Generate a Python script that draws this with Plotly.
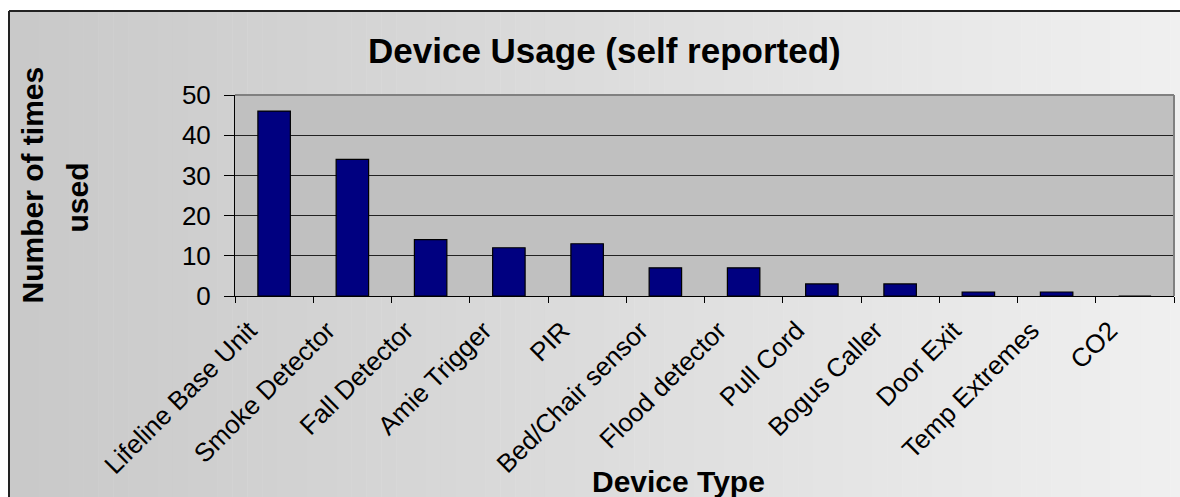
import plotly.graph_objects as go

categories = ["Lifeline Base Unit", "Smoke Detector", "Fall Detector", "Amie Trigger",
              "PIR", "Bed/Chair sensor", "Flood detector", "Pull Cord", "Bogus Caller",
              "Door Exit", "Temp Extremes", "CO2"]
times_used = [46, 34, 14, 12, 13, 7, 7, 3, 3, 1, 1, 0]
y_ticks = [0, 10, 20, 30, 40, 50]

W, H = 1180, 497
L, R, T, B = 235, 1174, 95, 296  # plot area in pixels
PW, PH = R - L, B - T


def px(x):
    return (x - L) / PW


def py(y):
    return (B - y) / PH


FONT = "Liberation Sans, Arial, sans-serif"

shapes = []
# horizontal gradient background inside the outer frame
n = 80
x0p, x1p = 9, 1200
c0, c1 = 0xC9, 0xF0
for i in range(n):
    xa = x0p + (x1p - x0p) * i / n
    xb = x0p + (x1p - x0p) * (i + 1) / n + 0.5
    c = int(round(c0 + (c1 - c0) * i / (n - 1)))
    col = f"rgb({c},{c},{c})"
    shapes.append(dict(type="rect", xref="paper", yref="paper", layer="below",
                       x0=px(xa), x1=px(xb), y0=py(510), y1=py(11),
                       fillcolor=col, line=dict(width=0)))
# plot area fill
shapes.append(dict(type="rect", xref="paper", yref="paper", layer="below",
                   x0=0, x1=1, y0=0, y1=1, fillcolor="#c0c0c0",
                   line=dict(width=0)))
# outer frame (left and top edges visible)
shapes.append(dict(type="line", xref="paper", yref="paper", layer="below",
                   x0=px(9), x1=px(1200), y0=py(11), y1=py(11),
                   line=dict(color="#222222", width=2)))
shapes.append(dict(type="line", xref="paper", yref="paper", layer="below",
                   x0=px(9), x1=px(9), y0=py(11), y1=py(510),
                   line=dict(color="#222222", width=2)))
# gray plot-area border (top and right)
shapes.append(dict(type="line", xref="paper", yref="paper", layer="above",
                   x0=0, x1=1, y0=1, y1=1, line=dict(color="#808080", width=2)))
shapes.append(dict(type="line", xref="paper", yref="paper", layer="above",
                   x0=1, x1=1, y0=0, y1=1, line=dict(color="#808080", width=2)))

fig = go.Figure(go.Bar(
    x=categories, y=times_used,
    marker=dict(color="#000080", line=dict(color="#000000", width=1.2)),
))

annotations = [
    dict(text="<b>Device Usage (self reported)</b>", xref="paper", yref="paper",
         x=px(604), y=py(50), xanchor="center", yanchor="middle", showarrow=False,
         font=dict(family=FONT, size=35, color="black")),
    dict(text="<b>Device Type</b>", xref="paper", yref="paper",
         x=px(678), y=py(481), xanchor="center", yanchor="middle", showarrow=False,
         font=dict(family=FONT, size=30, color="black")),
    dict(text="<b>Number of times</b>", xref="paper", yref="paper",
         x=px(32), y=py(306), xanchor="center", yanchor="bottom", showarrow=False,
         textangle=-90, font=dict(family=FONT, size=30, color="black")),
    dict(text="<b>used</b>", xref="paper", yref="paper",
         x=px(77), y=py(197.5), xanchor="center", yanchor="middle", showarrow=False,
         textangle=-90, font=dict(family=FONT, size=30, color="black")),
]

fig.update_layout(
    width=W, height=H,
    margin=dict(l=L, r=W - R, t=T, b=H - B, pad=0),
    paper_bgcolor="white", plot_bgcolor="#c0c0c0",
    bargap=0.585, showlegend=False,
    shapes=shapes, annotations=annotations,
    font=dict(family=FONT, color="black"),
)
fig.update_xaxes(
    type="category", tickson="boundaries", ticks="outside", ticklen=6,
    tickcolor="black", tickwidth=1, showline=True, linecolor="black", linewidth=1,
    tickangle=-45, tickfont=dict(family=FONT, size=26, color="black"),
    ticklabelshift=-25, ticklabelstandoff=8,
    showgrid=False, fixedrange=True,
)
fig.update_yaxes(
    range=[0, 50], tickvals=y_ticks, ticks="outside", ticklen=10, tickcolor="black",
    showline=True, linecolor="black", linewidth=1, showgrid=True, gridcolor="#222222",
    gridwidth=1, zeroline=False, tickfont=dict(family=FONT, size=26, color="black"),
    ticklabelstandoff=8, fixedrange=True,
)

fig.write_html(
    "out.html", config={"displayModeBar": False},
    post_script=("document.body.style.margin='0';document.body.style.overflow='hidden';"
                 "document.documentElement.style.overflow='hidden';"),
)
